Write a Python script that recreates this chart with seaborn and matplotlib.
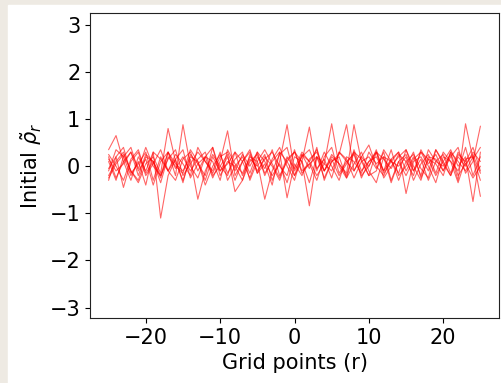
import numpy as np
import pandas as pd
import matplotlib
matplotlib.use("Agg")
import matplotlib.pyplot as plt
import seaborn as sns

# grid points r = -25 ... 25
r = list(range(-25, 26))

run1 = [0.35, 0.65, 0.1, -0.3, 0.2, -0.1, 0.3, -1.1, -0.2, 0.15,
        -0.35, 0.25, 0.05, -0.2, 0.4, -0.1, 0.2, -0.3, 0.1, 0.35,
        -0.15, 0.05, -0.4, 0.3, 0.1, -0.2, 0.25, -0.05, 0.4, -0.3,
        0.1, 0.2, -0.25, 0.05, 0.3, -0.1, -0.35, 0.2, 0.1, -0.15,
        0.35, 0.0, -0.3, 0.2, 0.15, -0.1, 0.3, -0.2, 0.05, 0.25,
        -0.15]
run2 = [-0.2, 0.1, 0.3, -0.1, -0.35, 0.05, 0.2, -0.15, 0.8, 0.1,
        -0.3, 0.15, -0.7, -0.1, 0.25, 0.0, -0.2, 0.3, 0.1, -0.25,
        0.2, -0.05, 0.35, -0.2, 0.1, 0.3, -0.1, 0.05, -0.3, 0.2,
        0.4, -0.15, 0.1, 0.25, -0.2, 0.0, 0.3, -0.1, 0.15, -0.3,
        0.1, 0.25, -0.05, -0.25, 0.35, 0.1, -0.2, 0.2, 0.0, 0.3,
        0.1]
run3 = [0.1, -0.3, 0.2, 0.4, -0.1, 0.15, -0.4, 0.1, 0.3, -0.2,
        0.88, 0.0, -0.25, 0.2, 0.1, -0.3, 0.35, 0.05, -0.15, 0.2,
        0.1, -0.7, -0.1, 0.25, 0.4, -0.2, 0.1, -0.35, 0.2, 0.05,
        -0.1, 0.3, 0.15, -0.25, 0.1, 0.2, -0.05, 0.3, -0.3, 0.1,
        -0.2, 0.15, 0.3, 0.0, -0.35, 0.2, 0.1, -0.1, 0.4, -0.2,
        0.2]
run4 = [-0.3, 0.2, -0.45, 0.1, 0.3, -0.2, 0.05, 0.35, -0.1, -0.3,
        0.15, 0.3, -0.1, 0.2, -0.25, 0.1, 0.75, -0.2, 0.1, 0.3,
        -0.15, 0.2, 0.0, -0.3, 0.15, 0.3, 0.1, -0.84, 0.2, -0.1,
        0.25, 0.05, -0.2, 0.35, -0.1, 0.1, 0.3, -0.25, 0.0, 0.2,
        0.35, -0.1, 0.15, -0.3, 0.1, 0.25, -0.15, 0.3, 0.05, -0.25,
        0.0]
run5 = [0.15, -0.1, 0.05, 0.3, -0.2, 0.25, 0.1, -0.35, 0.2, 0.0,
        -0.15, 0.35, 0.1, -0.3, 0.2, -0.1, 0.05, 0.3, -0.2, 0.15,
        0.0, 0.25, -0.3, 0.1, 0.88, -0.1, 0.2, 0.35, -0.05, 0.15,
        -0.25, 0.3, 0.1, -0.1, 0.2, 0.45, 0.0, -0.2, 0.15, 0.3,
        -0.58, 0.1, 0.2, -0.1, 0.35, 0.05, -0.2, 0.25, 0.1, 0.4,
        -0.1]
run6 = [-0.1, 0.35, 0.2, -0.2, 0.1, -0.4, 0.3, 0.15, -0.1, 0.25,
        0.05, -0.2, 0.4, 0.1, -0.1, 0.3, -0.3, 0.0, 0.2, -0.15,
        0.3, 0.1, -0.2, 0.05, -0.35, 0.2, 0.1, 0.83, -0.1, 0.3,
        0.0, -0.3, 0.2, 0.1, -0.15, 0.3, 0.05, 0.2, -0.35, 0.1,
        0.25, -0.1, 0.3, 0.15, -0.2, 0.1, 0.35, 0.0, 0.2, -0.75,
        0.3]
run7 = [0.25, 0.0, -0.3, 0.15, 0.35, -0.15, 0.1, -0.25, 0.3, 0.05,
        -0.1, 0.2, 0.1, -0.4, 0.0, 0.25, -0.15, 0.15, 0.3, -0.3,
        0.1, 0.35, 0.05, -0.25, 0.2, -0.05, 0.3, 0.1, -0.2, 0.05,
        0.9, 0.0, -0.25, 0.3, 0.15, -0.2, -0.1, 0.35, 0.1, 0.0,
        0.2, -0.3, 0.05, 0.25, -0.15, 0.3, 0.1, -0.35, 0.15, 0.2,
        -0.64]
run8 = [-0.05, 0.2, 0.4, -0.15, 0.05, 0.3, -0.3, 0.2, -0.1, 0.15,
        0.35, -0.25, 0.05, 0.2, 0.4, -0.2, 0.1, 0.0, -0.3, 0.25,
        -0.1, 0.15, 0.3, 0.0, -0.2, 0.35, -0.15, 0.05, 0.2, -0.25,
        0.1, 0.25, 0.88, -0.1, 0.2, 0.0, 0.35, -0.15, 0.1, 0.3,
        -0.1, 0.2, -0.2, 0.35, 0.1, 0.0, 0.25, -0.3, 0.9, 0.15,
        0.4]
run9 = [0.2, -0.25, 0.1, 0.3, -0.05, 0.4, 0.0, -0.2, 0.15, 0.35,
        -0.2, 0.05, 0.3, 0.1, -0.15, 0.2, 0.3, -0.1, 0.25, 0.0,
        0.3, -0.2, 0.15, 0.4, 0.0, -0.3, 0.25, 0.1, 0.35, -0.1,
        0.2, 0.05, -0.15, 0.88, 0.1, -0.2, 0.3, 0.15, -0.05, 0.25,
        0.1, -0.2, 0.35, 0.05, 0.25, -0.1, 0.2, 0.4, -0.15, 0.1,
        0.85]
run10 = [-0.25, 0.05, 0.25, -0.1, -0.3, 0.2, 0.1, -0.2, 0.3, -0.05,
         0.2, -0.1, 0.15, 0.3, -0.2, 0.0, 0.25, -0.54, -0.3, 0.1,
         0.25, -0.15, 0.1, 0.3, -0.67, 0.05, -0.2, 0.15, 0.3, -0.1,
         0.15, -0.2, 0.05, 0.3, -0.25, 0.1, 0.2, -0.1, 0.35, -0.2,
         0.0, 0.3, -0.25, 0.15, 0.05, -0.2, 0.3, 0.1, -0.1, 0.2,
         -0.3]

runs = [run1, run2, run3, run4, run5, run6, run7, run8, run9, run10]

df = pd.concat(
    [pd.DataFrame({"r": r, "rho": vals, "run": i}) for i, vals in enumerate(runs)],
    ignore_index=True,
)

sns.set_style("ticks")
plt.rcParams["font.family"] = ["DejaVu Sans"]
plt.rcParams["text.color"] = "black"
plt.rcParams["axes.labelcolor"] = "black"
plt.rcParams["xtick.color"] = "black"
plt.rcParams["ytick.color"] = "black"

fig = plt.figure(figsize=(5.01, 3.83), dpi=100, facecolor="#eeeae3")
# white page area (the reference sits on a beige backdrop)
page = plt.Rectangle((8 / 501, 0), 1, 1 - 5 / 383, transform=fig.transFigure,
                     color="white", zorder=-10)
fig.patches.append(page)
ax = fig.add_axes([90 / 501, 1 - 318 / 383, 409 / 501, 305 / 383])
ax.set_zorder(1)

sns.lineplot(data=df, x="r", y="rho", units="run", estimator=None,
             color="red", linewidth=0.8, alpha=0.6, ax=ax)

ax.set_ylim(-3.22, 3.25)
ax.set_yticks([-3, -2, -1, 0, 1, 2, 3])
ax.set_xticks([-20, -10, 0, 10, 20])
ax.tick_params(labelsize=15, colors="black")
ax.set_xlabel("Grid points (r)", fontsize=15)
ax.set_ylabel(r"Initial $\tilde{\rho}_r$", fontsize=15)
for s in ax.spines.values():
    s.set_color("#222222")

fig.savefig("out.png", dpi=100, facecolor=fig.get_facecolor())
